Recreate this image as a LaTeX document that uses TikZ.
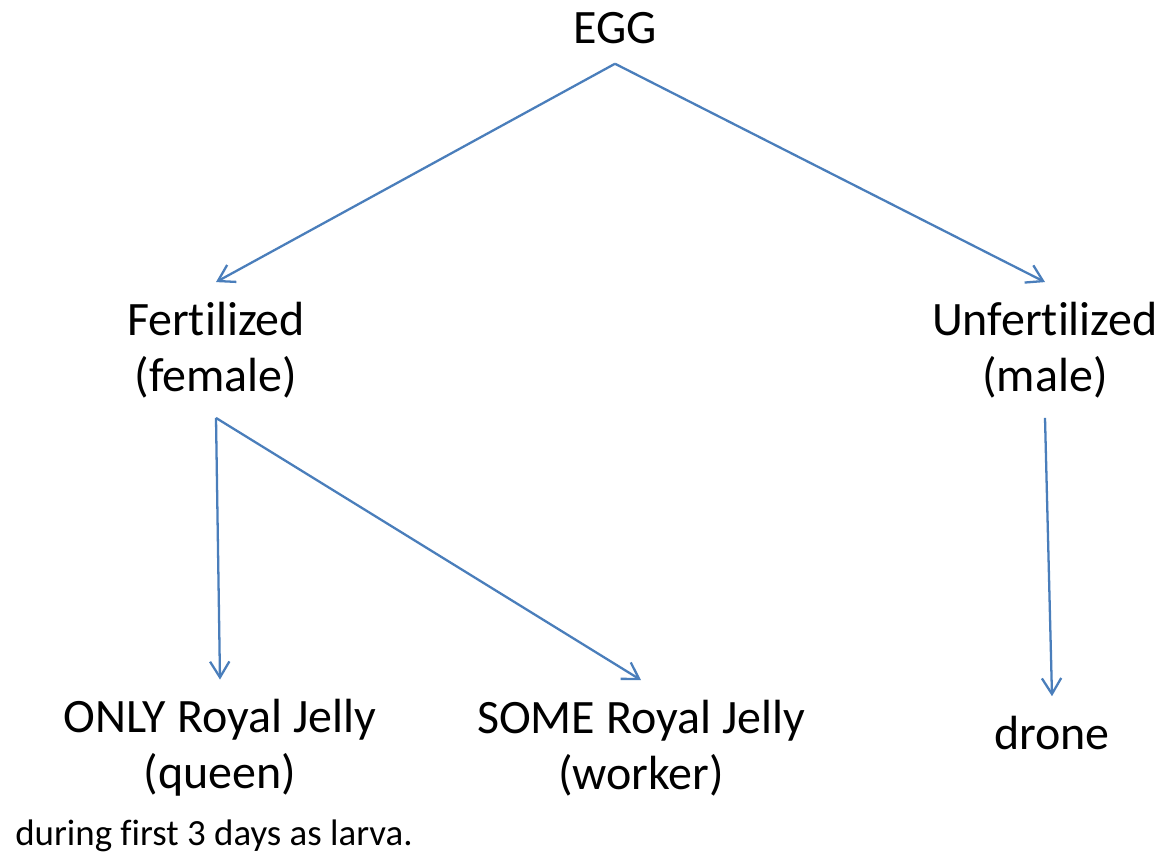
\documentclass[tikz,border=0pt]{standalone}
\usepackage{fontspec}
\setmainfont{Carlito}[Ligatures=NoCommon]
\usetikzlibrary{positioning,arrows.meta}
\definecolor{linkblue}{HTML}{4A7EBB}

\begin{document}
\begin{tikzpicture}[auto, node distance=6.44cm,>={Straight Barb[length=9pt,width=11pt]}]
		%define block styles
		\tikzset{
			stage/.style={align=center, inner sep=0pt, outer sep=0.4cm, font=\fontsize{27.3}{31.8}\selectfont},
			note/.style={inner sep=0pt, font=\fontsize{21}{24}\selectfont},
			arrow/.style={line width=1.3pt,->,draw=linkblue},}
		\useasboundingbox (0,0) rectangle (23.24,-17.08);
		%define nodes
		\node[stage](egg) at (12.3,-0.56){EGG};
		\node[stage, below of=egg, xshift=-7.98cm](fert){Fertilized\\(female)};
		\node[stage, below of=egg, xshift=8.6cm](unfert){Unfertilized\\(male)};
		\node[stage, below of=fert, yshift=-1.52cm, xshift=0.08cm](only){ONLY Royal Jelly\\(queen)};
		\node[stage, below of=fert, yshift=-1.52cm, xshift=8.5cm](some){SOME Royal Jelly\\(worker)};
		\node[stage, below of=unfert, yshift=-1.22cm, xshift=0.14cm](drone){drone};
		\node[note, anchor=base](larva) at (4.28,-16.9){during first 3 days as larva.};
		%define arrows
		\draw[arrow](egg.south) -- (fert.north);
		\draw[arrow](egg.south) -- (unfert.north);
		\draw[arrow](fert.south) -- (only.north);
		\draw[arrow](fert.south) -- (some.north);
		\draw[arrow](unfert.south) -- (drone.north);
\end{tikzpicture}
\end{document}
